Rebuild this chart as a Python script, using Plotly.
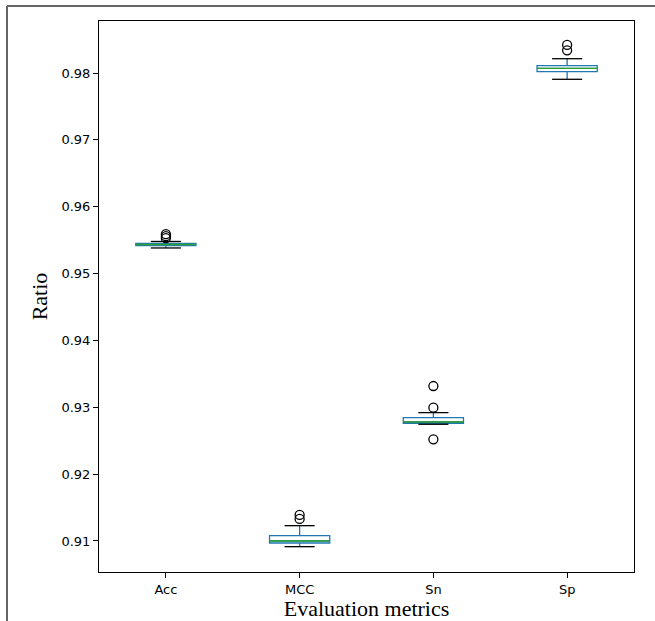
import plotly.graph_objects as go

categories = ["Acc", "MCC", "Sn", "Sp"]
positions = [1, 2, 3, 4]
q1 = [0.9542, 0.9097, 0.9276, 0.9802]
median = [0.95435, 0.9100, 0.9278, 0.9807]
q3 = [0.9545, 0.9108, 0.92845, 0.9811]
lower = [0.95383, 0.90915, 0.92746, 0.97906]
upper = [0.9548, 0.91229, 0.9292, 0.98214]
outliers = {
    "Acc": [0.95530, 0.95560, 0.95590],
    "MCC": [0.9133, 0.9139],
    "Sn": [0.93318, 0.92994, 0.92521],
    "Sp": [0.9834, 0.9842],
}
yticks = [0.91, 0.92, 0.93, 0.94, 0.95, 0.96, 0.97, 0.98]

BLUE = "#1f77b4"
GREEN = "#2ca02c"
BOX_W = 0.45
CAP_W = BOX_W / 2

fig = go.Figure()

fig.add_trace(go.Box(
    x=positions, q1=q1, median=median, q3=q3,
    lowerfence=lower, upperfence=upper,
    width=BOX_W, whiskerwidth=0,
    line=dict(color=BLUE, width=1.3),
    fillcolor="rgba(0,0,0,0)",
    boxpoints=False, hoverinfo="skip", showlegend=False,
))

# caps
cx, cy = [], []
for p, lo, hi in zip(positions, lower, upper):
    for v in (lo, hi):
        cx += [p - CAP_W / 2, p + CAP_W / 2, None]
        cy += [v, v, None]
fig.add_trace(go.Scatter(x=cx, y=cy, mode="lines",
                         line=dict(color="black", width=1.3),
                         showlegend=False, hoverinfo="skip"))

# medians
mx, my = [], []
for p, m in zip(positions, median):
    mx += [p - BOX_W / 2, p + BOX_W / 2, None]
    my += [m, m, None]
fig.add_trace(go.Scatter(x=mx, y=my, mode="lines",
                         line=dict(color=GREEN, width=1.3),
                         showlegend=False, hoverinfo="skip"))

# outliers
ox, oy = [], []
for p, c in zip(positions, categories):
    for v in outliers[c]:
        ox.append(p)
        oy.append(v)
fig.add_trace(go.Scatter(x=ox, y=oy, mode="markers",
                         marker=dict(symbol="circle-open", size=9,
                                     color="black", line=dict(width=1.3)),
                         showlegend=False, hoverinfo="skip"))

# outer frame (image border)
fig.add_shape(type="line", xref="paper", yref="paper",
              x0=(7 - 99) / 535, x1=(660 - 99) / 535,
              y0=(572 - 6) / 551, y1=(572 - 6) / 551,
              line=dict(color="#666666", width=2))
fig.add_shape(type="line", xref="paper", yref="paper",
              x0=(7 - 99) / 535, x1=(7 - 99) / 535,
              y0=(572 - 6) / 551, y1=(572 - 630) / 551,
              line=dict(color="#666666", width=2))

fig.update_layout(
    width=655, height=621,
    margin=dict(l=99, r=21, t=21, b=49),
    paper_bgcolor="white", plot_bgcolor="white",
    font=dict(family="DejaVu Sans", size=13, color="black"),
    xaxis=dict(
        range=[0.5, 4.5], tickmode="array", tickvals=positions,
        ticktext=categories, ticks="outside", ticklen=5, tickwidth=1,
        tickcolor="black", showline=True, linecolor="black", linewidth=1,
        mirror=True, showgrid=False, zeroline=False, automargin=False,
        title=dict(text="Evaluation metrics",
                   font=dict(family="Liberation Serif", size=22),
                   standoff=4),
    ),
    yaxis=dict(
        range=[0.90536, 0.98778], tickmode="array", tickvals=yticks,
        ticktext=[f"{v:.2f}" for v in yticks],
        ticks="outside", ticklen=5, tickwidth=1, tickcolor="black",
        showline=True, linecolor="black", linewidth=1, mirror=True,
        showgrid=False, zeroline=False, automargin=False,
        title=dict(text="Ratio",
                   font=dict(family="Liberation Serif", size=22),
                   standoff=7),
    ),
)

fig.write_html("out.html", config={"displayModeBar": False})

with open("out.html", "r", encoding="utf-8") as f:
    html = f.read()
html = html.replace("<body>", '<body style="margin:0;overflow:hidden">', 1)
with open("out.html", "w", encoding="utf-8") as f:
    f.write(html)
